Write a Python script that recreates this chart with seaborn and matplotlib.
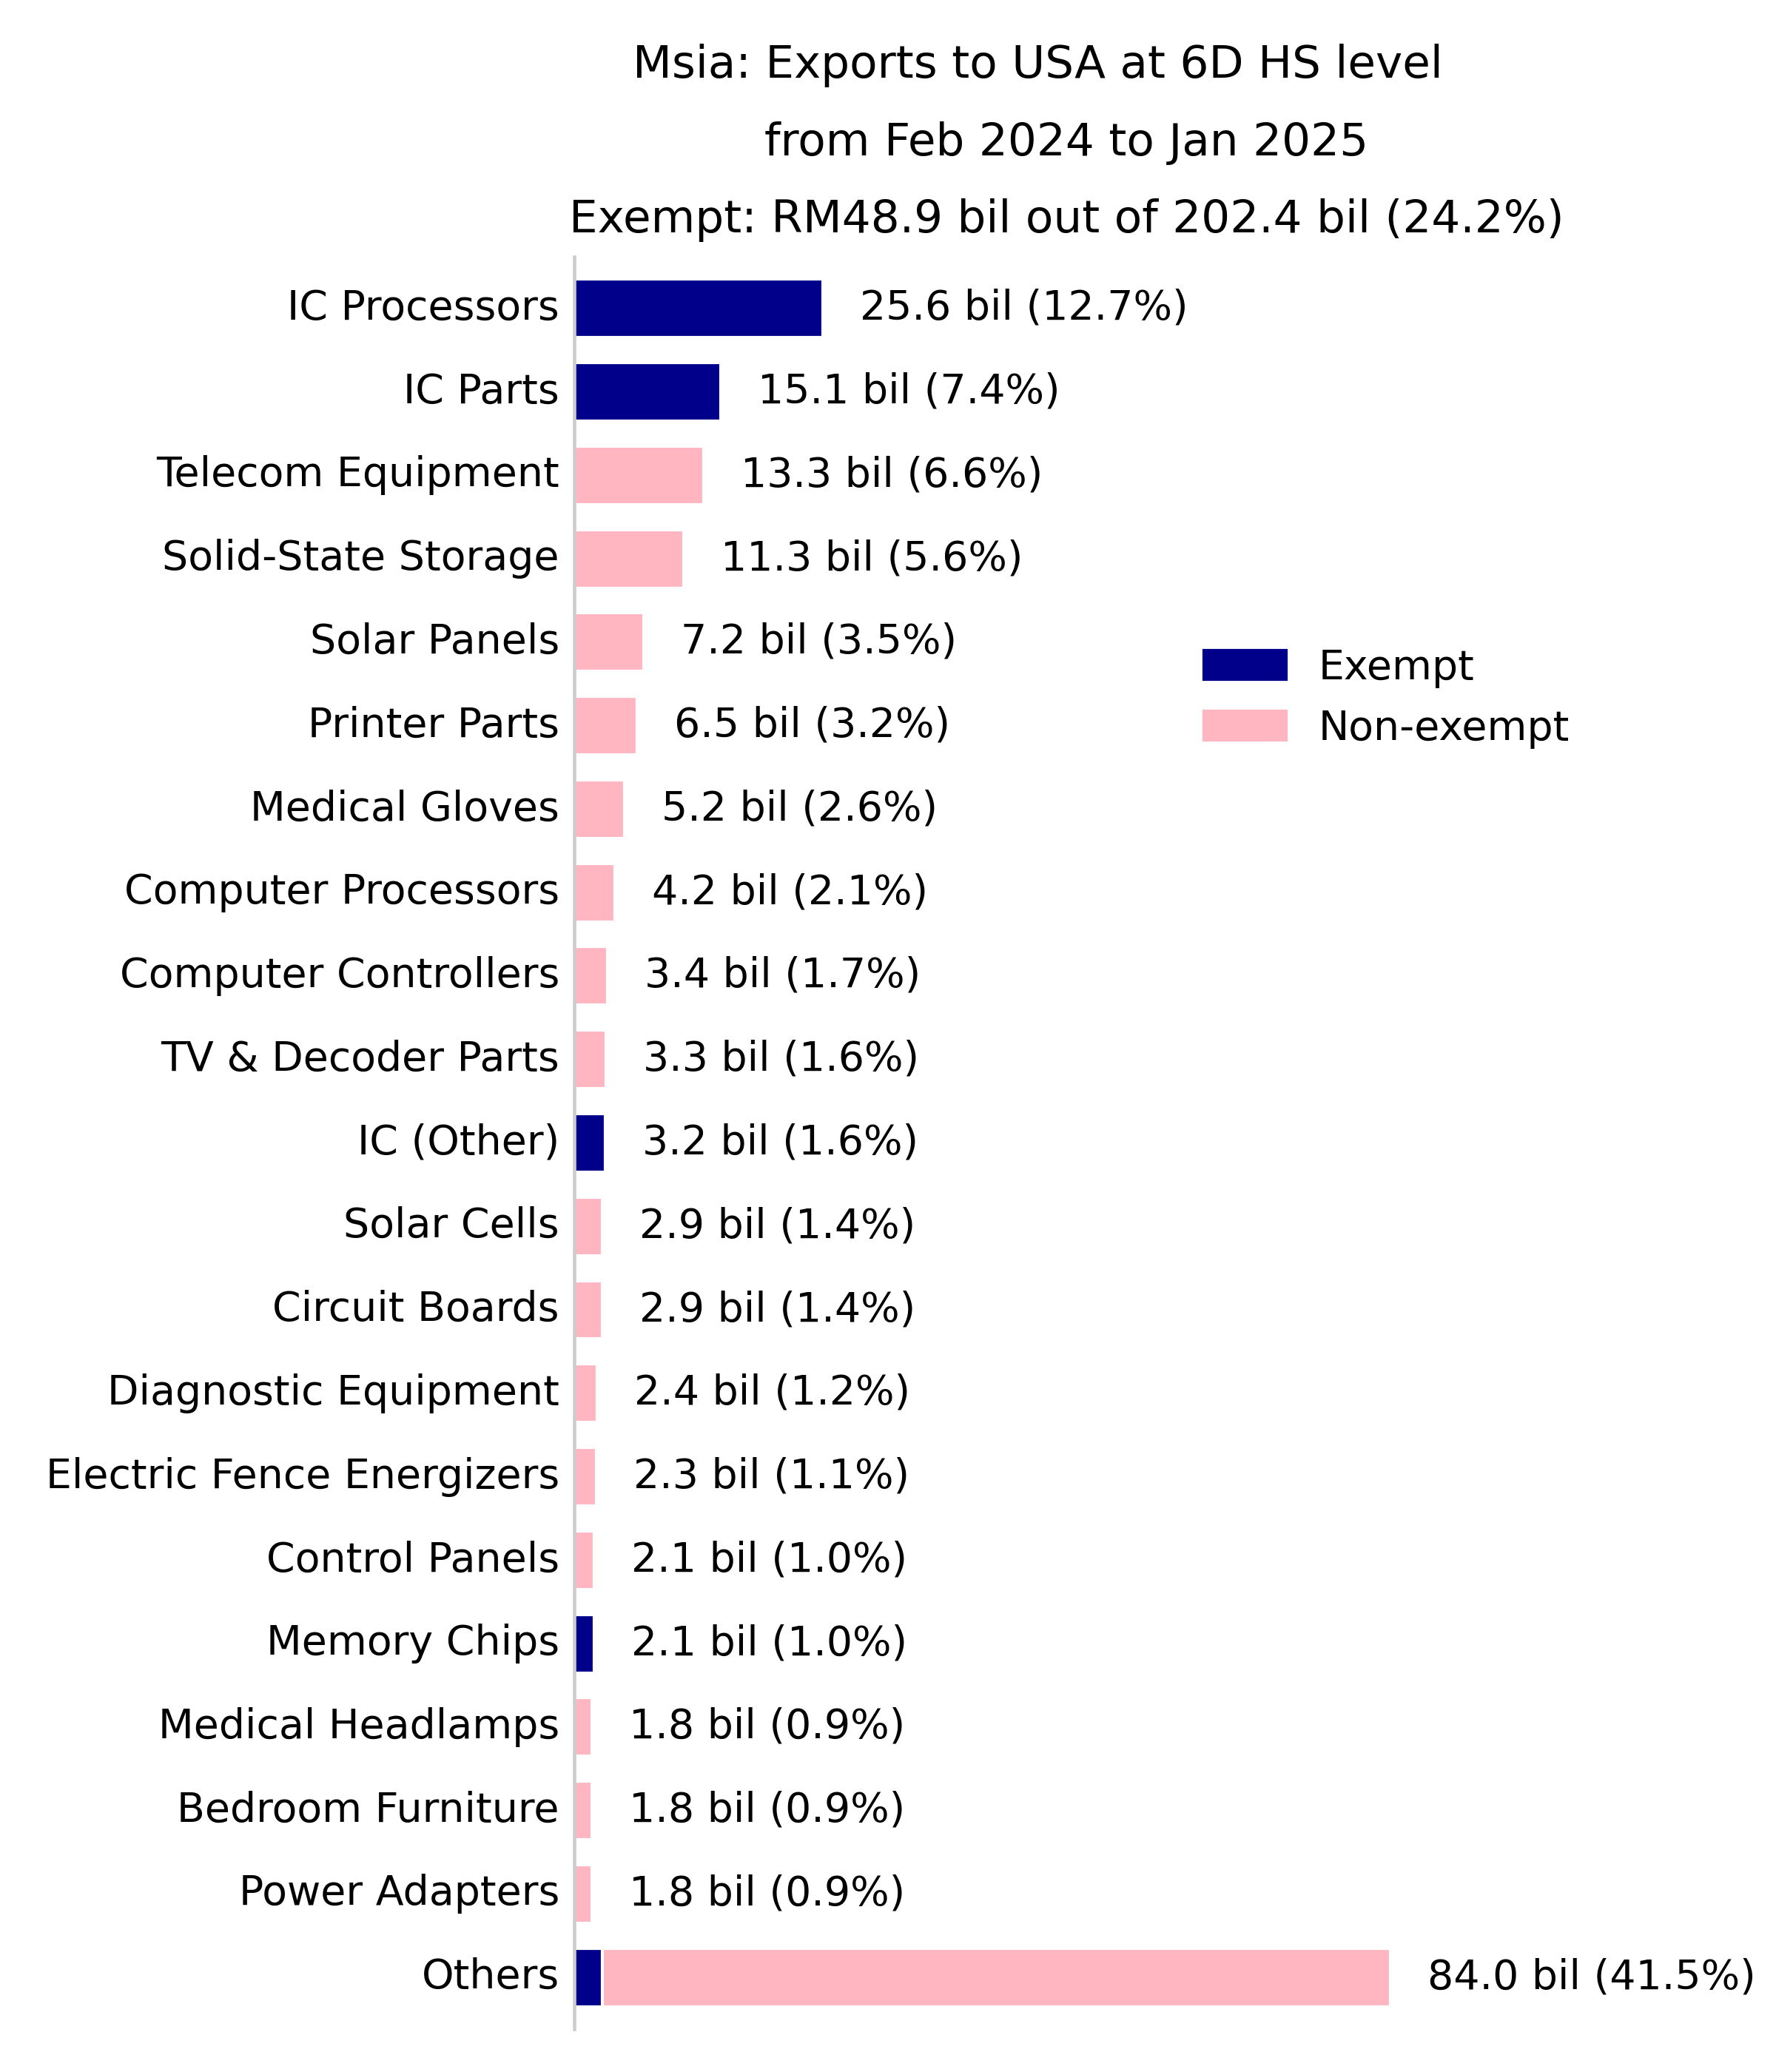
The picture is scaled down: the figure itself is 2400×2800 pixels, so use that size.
import pandas as pd
import numpy as np
import matplotlib.pyplot as plt
import seaborn as sns
from matplotlib.patches import Patch

# Products (6D HS), in display order
products = ['IC Processors', 'IC Parts', 'Telecom Equipment', 'Solid-State Storage',
            'Solar Panels', 'Printer Parts', 'Medical Gloves', 'Computer Processors',
            'Computer Controllers', 'TV & Decoder Parts', 'IC (Other)', 'Solar Cells',
            'Circuit Boards', 'Diagnostic Equipment', 'Electric Fence Energizers',
            'Control Panels', 'Memory Chips', 'Medical Headlamps', 'Bedroom Furniture',
            'Power Adapters', 'Others']
# Total exports, RM bil
total_bil = [25.6, 15.1, 13.3, 11.3, 7.2, 6.5, 5.2, 4.2, 3.4, 3.3, 3.2, 2.9, 2.9,
             2.4, 2.3, 2.1, 2.1, 1.8, 1.8, 1.8, 84.0]
# Exempt part, RM bil
exempt_bil = [25.6, 15.1, 0, 0, 0, 0, 0, 0, 0, 0, 3.2, 0, 0,
              0, 0, 0, 2.1, 0, 0, 0, 2.9]
# Share of total exports, %
share_pct = [12.7, 7.4, 6.6, 5.6, 3.5, 3.2, 2.6, 2.1, 1.7, 1.6, 1.6, 1.4, 1.4,
             1.2, 1.1, 1.0, 1.0, 0.9, 0.9, 0.9, 41.5]

title_lines = ['Msia: Exports to USA at 6D HS level    ',
               'from Feb 2024 to Jan 2025',
               'Exempt: RM48.9 bil out of 202.4 bil (24.2%)']

df = pd.DataFrame({'product': products, 'total': total_bil,
                   'exempt': exempt_bil, 'share': share_pct})

sns.set_style('white')
plt.rcParams['font.family'] = ['DejaVu Sans']
plt.rcParams['text.color'] = 'black'
plt.rcParams['ytick.color'] = 'black'
fs = 13.3

fig = plt.figure(figsize=(8, 2800 / 300), dpi=300)
ax = fig.add_axes([0.3233, 0.0207, 0.5542, 0.8554])

# pink total bars, then exempt portion drawn over them
sns.barplot(data=df, x='total', y='product', orient='h', color='lightpink',
            saturation=1, width=0.7, ax=ax)
sns.barplot(data=df, x='exempt', y='product', orient='h', color='darkblue',
            saturation=1, width=0.7, ax=ax)

for i, row in df.iterrows():
    ax.annotate(f"{row['total']:.1f} bil ({row['share']:.1f}%)",
                xy=(row['total'], i), xytext=(12, 0), textcoords='offset points',
                va='center', ha='left', fontsize=fs, color='black')

ax.set_xlim(0, df['total'].max() * 1.206)
ax.set_ylim(len(df) - 1 + 0.62, -0.62)
ax.set(xlabel='', ylabel='', xticks=[])
ax.tick_params(axis='y', length=0, pad=4.8, labelsize=fs, labelcolor='black')
for lab in ax.get_yticklabels():
    lab.set_verticalalignment('center')
sns.despine(ax=ax, left=False, bottom=True)
ax.spines['left'].set_color('#cccccc')
ax.spines['left'].set_linewidth(1.1)

ax.set_title('\n'.join(title_lines), fontsize=14.7, linespacing=1.98, pad=8,
             color='black')

handles = [Patch(color='darkblue', label='Exempt'),
           Patch(color='lightpink', label='Non-exempt')]
fig.legend(handles=handles, loc='upper left', bbox_to_anchor=(0.657, 0.705),
           frameon=False, fontsize=fs)

fig.savefig('out.png', dpi=300)
